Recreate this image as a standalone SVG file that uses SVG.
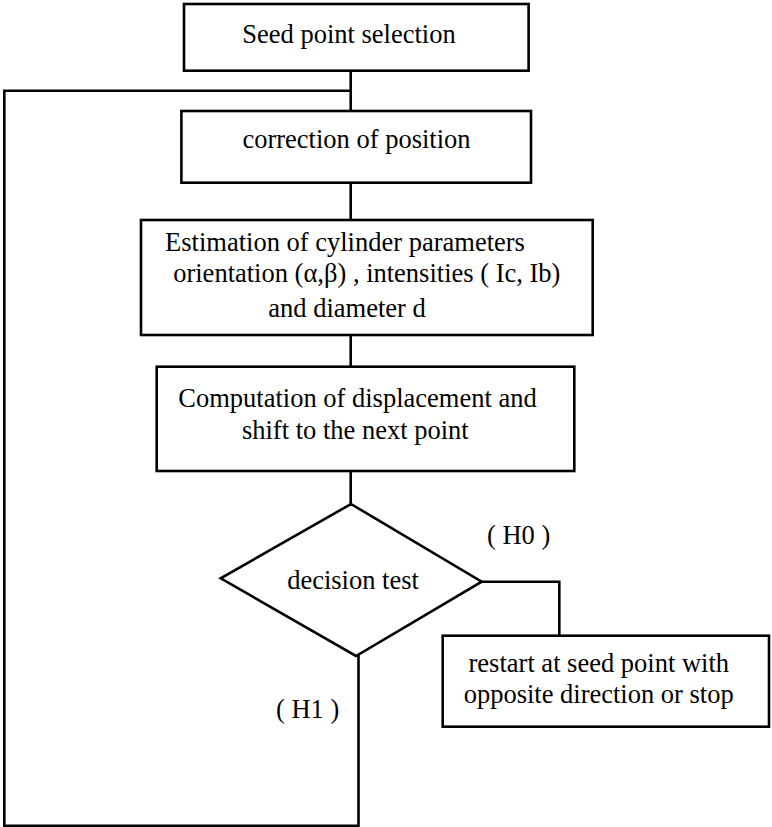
<svg xmlns="http://www.w3.org/2000/svg" width="772" height="827" viewBox="0 0 772 827">
  <style>
    .box { fill: #ffffff; stroke: #000000; stroke-width: 2.6; }
    .conn { fill: none; stroke: #000000; stroke-width: 2.6; stroke-linejoin: miter; stroke-linecap: square; }
    text { font-family: "Liberation Serif", "Times New Roman", serif; font-size: 26.5px; fill: #000000; text-anchor: middle; }
  </style>
  <rect width="772" height="827" fill="#ffffff"/>
  <g id="connectors">
    <path class="conn" d="M350.7,70.7 V111"/>
    <path class="conn" d="M350.7,90.7 H4.3 V825.7 H358.5 V656"/>
    <path class="conn" d="M350.7,182.7 V220"/>
    <path class="conn" d="M350.7,335 V366.7"/>
    <path class="conn" d="M350.7,471 V504"/>
    <path class="conn" d="M481.7,581.7 H559.3 V635.7"/>
  </g>
  <g id="seed">
    <rect class="box" x="184" y="4" width="344.6" height="66.7"/>
    <text x="349" y="43">Seed point selection</text>
  </g>
  <g id="correction">
    <rect class="box" x="181.4" y="111" width="349.6" height="71.7"/>
    <text x="356.5" y="148.3">correction of position</text>
  </g>
  <g id="estimation">
    <rect class="box" x="141" y="220" width="451.7" height="115"/>
    <text x="345" y="250.7">Estimation of cylinder parameters</text>
    <text x="366.8" y="282.3">orientation (α,β) , intensities ( Ic, Ib)</text>
    <text x="347" y="317.3">and diameter d</text>
  </g>
  <g id="computation">
    <rect class="box" x="156.7" y="366.7" width="417.6" height="104.3"/>
    <text x="357.5" y="407.3">Computation of displacement and</text>
    <text x="355.3" y="439">shift to the next point</text>
  </g>
  <g id="decision">
    <polygon class="box" points="351,504 481.7,581.7 356,656 220.7,578.3"/>
    <text x="353" y="589.3">decision test</text>
  </g>
  <g id="restart">
    <rect class="box" x="442.7" y="635.7" width="326.3" height="91"/>
    <text x="598.8" y="671.7">restart at seed point with</text>
    <text x="598.7" y="703.3">opposite direction or stop</text>
  </g>
  <g id="labels">
    <text x="518.6" y="544.3">( H0 )</text>
    <text x="307.6" y="718.3">( H1 )</text>
  </g>
</svg>
